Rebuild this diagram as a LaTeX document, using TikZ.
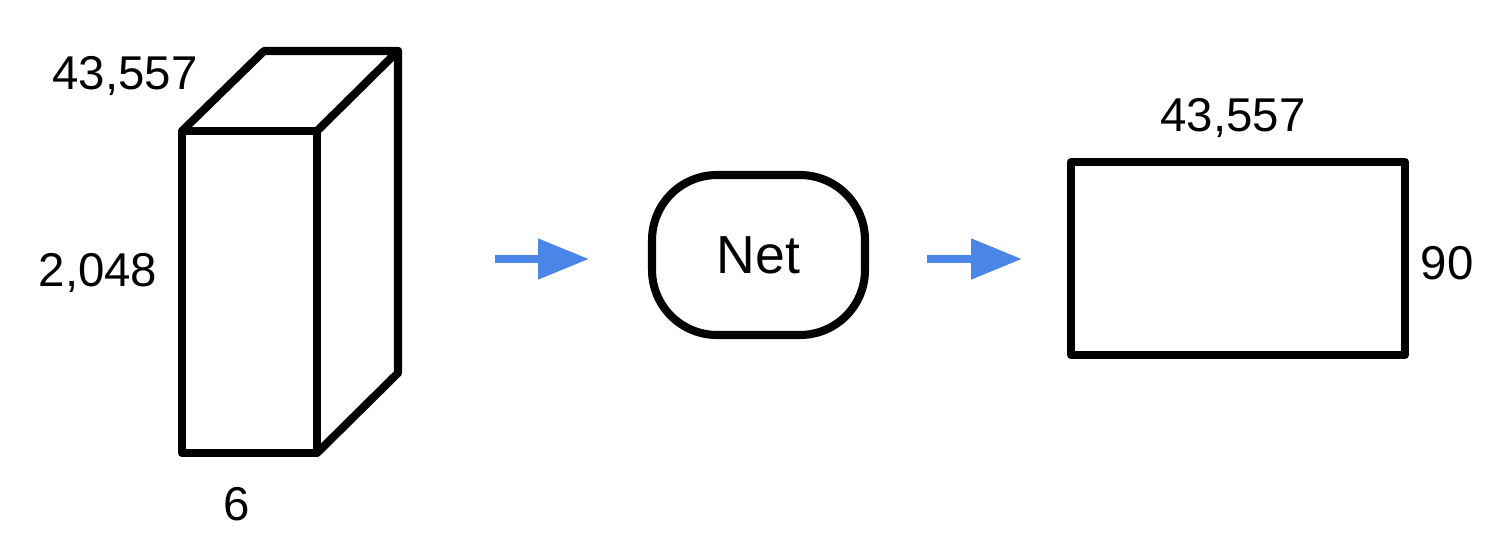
\documentclass[tikz,border=0pt]{standalone}
\usepackage{fontspec}
\setmainfont{Liberation Sans}
\usetikzlibrary{arrows.meta}
\definecolor{arrowblue}{RGB}{74,134,232}
\tikzset{
  outline/.style={draw=black, line width=4.6pt, line join=round, line cap=round},
  lbl/.style={font=\fontsize{27}{32}\selectfont, inner sep=0pt},
  flow/.style={draw=arrowblue, line width=4.6pt, -{Triangle[length=1.02cm,width=0.78cm]}}
}
\begin{document}
\begin{tikzpicture}[x=0.02cm,y=-0.02cm]
\useasboundingbox (0,0) rectangle (1496,544);
% cube
\coordinate (ftl) at (182,131);
\coordinate (ftr) at (317,131);
\coordinate (fbr) at (317,453);
\coordinate (fbl) at (182,453);
\coordinate (btl) at (264,51);
\coordinate (btr) at (398,51);
\coordinate (bbr) at (398,373);
\draw[outline] (ftl) -- (ftr) -- (fbr) -- (fbl) -- cycle;
\draw[outline] (ftl) -- (btl) -- (btr) -- (ftr);
\draw[outline] (btr) -- (bbr) -- (fbr);
\node[lbl] (cubeDepth) at (125,76) {43,557};
\node[lbl] (cubeHeight) at (98,273) {2,048};
\node[lbl] (cubeWidth) at (237,504) {6};
% net
\node[outline, rounded corners=1.3cm, minimum width=4.26cm, minimum height=3.2cm,
      font=\fontsize{30.5}{36}\selectfont] (net) at (758.5,255) {Net};
% output
\node[outline, minimum width=6.68cm, minimum height=3.86cm, inner sep=0pt] (out) at (1238,258.5) {};
\node[lbl] (outWidth) at (1233,118) {43,557};
\node[lbl] (outHeight) at (1447,263) {90};
% arrows
\coordinate (a1s) at (495,259);
\coordinate (a1e) at (589,259);
\coordinate (a2s) at (927,259);
\coordinate (a2e) at (1022,259);
\draw[flow] (a1s) -- (a1e);
\draw[flow] (a2s) -- (a2e);
\end{tikzpicture}
\end{document}
